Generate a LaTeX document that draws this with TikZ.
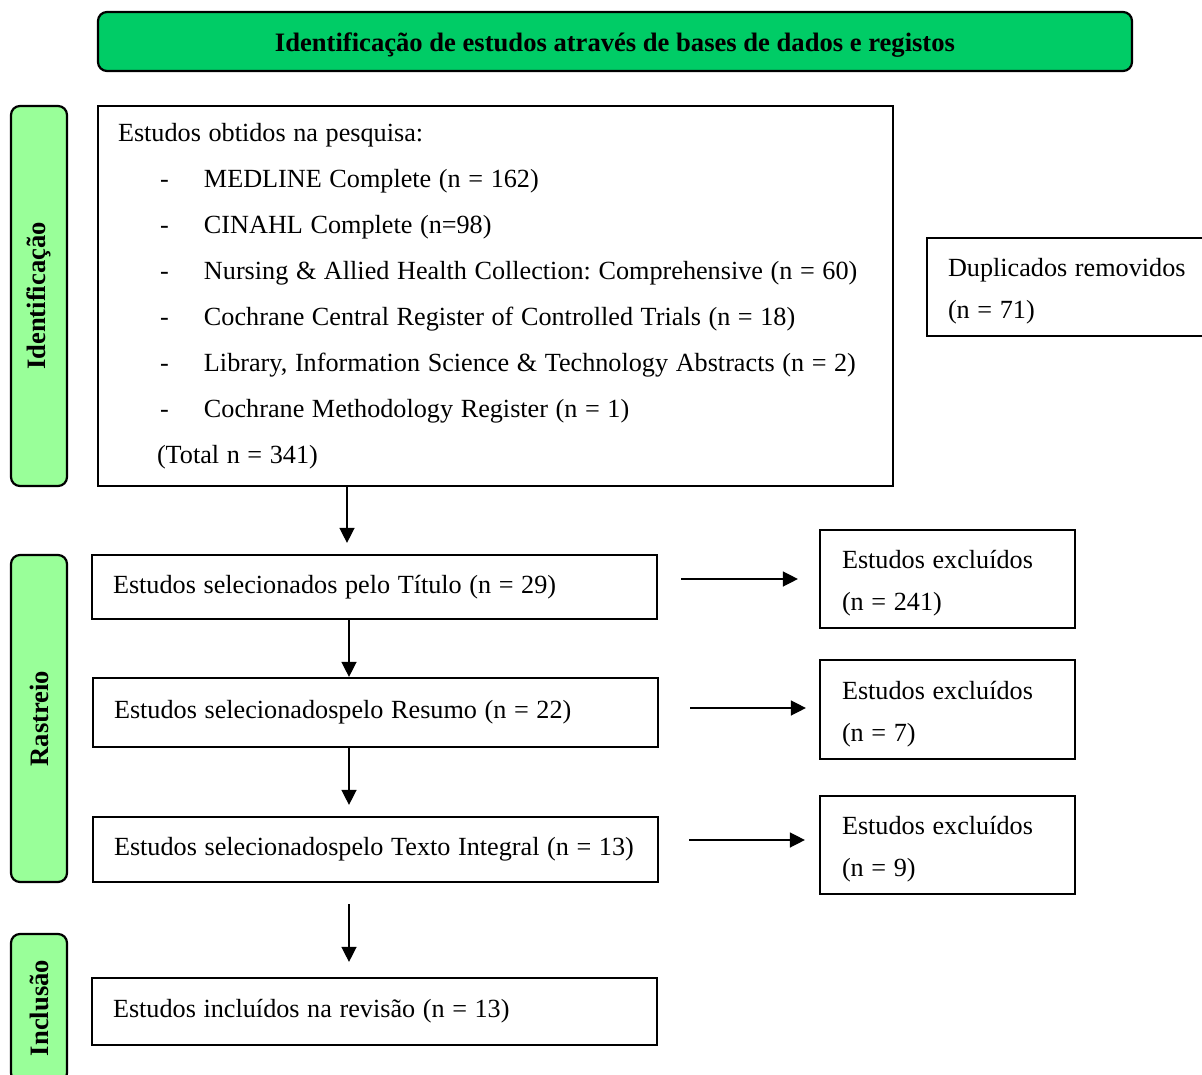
\documentclass[tikz,border=0pt]{standalone}
\usepackage{fontspec}
\setmainfont{Liberation Serif}
\usetikzlibrary{arrows.meta}
\definecolor{bannergreen}{RGB}{0,204,102}
\definecolor{sidegreen}{RGB}{153,255,153}
\newcommand{\boxfont}[1]{\fontsize{26.2}{#1}\selectfont}
\begin{document}
\begin{tikzpicture}[x=1pt,y=-1pt,
  every node/.style={font=\boxfont{42}},
  box/.style={draw,line width=2.2pt,rectangle,align=left,inner xsep=21pt,inner ysep=0pt,anchor=center,
    execute at begin node={\spaceskip=7.6pt\relax\xspaceskip=7.6pt\relax}},
  side/.style={draw,line width=2.2pt,rounded corners=9pt,fill=sidegreen,rotate=90,inner sep=0pt,font=\fontsize{26.6}{30}\selectfont\bfseries},
  arr/.style={line width=1.4pt,-{Triangle[length=15pt,width=15pt]}}
]
\clip (0,0) rectangle (1202,1075);
\fill[white] (0,0) rectangle (1202,1075);

% banner
\node[draw,line width=2.2pt,rounded corners=9pt,fill=bannergreen,minimum width=1034pt,minimum height=59pt,inner sep=0pt,text height=26pt,text depth=5pt,font=\fontsize{26.6}{30}\selectfont\bfseries] (banner) at (615,41.5) {Identificação de estudos através de bases de dados e registos};

% side labels
\node[side,minimum width=380pt,minimum height=56pt] (sid) at (39,296) {Identificação};
\node[side,minimum width=327pt,minimum height=56pt] (sra) at (39,718.5) {Rastreio};
\node[side,minimum width=148pt,minimum height=56pt] (sin) at (39,1008) {Inclusão};

% main box
\node[box,text width=755pt,minimum height=380pt,inner xsep=20pt,font=\boxfont{46}] (main) at (495.5,296) {%
Estudos obtidos na pesquisa:\\
\makebox[86pt][l]{\hspace{42pt}-}MEDLINE Complete (n = 162)\\
\makebox[86pt][l]{\hspace{42pt}-}CINAHL Complete (n=98)\\
\makebox[86pt][l]{\hspace{42pt}-}Nursing \& Allied Health Collection: Comprehensive (n = 60)\\
\makebox[86pt][l]{\hspace{42pt}-}Cochrane Central Register of Controlled Trials (n = 18)\\
\makebox[86pt][l]{\hspace{42pt}-}Library, Information Science \& Technology Abstracts (n = 2)\\
\makebox[86pt][l]{\hspace{42pt}-}Cochrane Methodology Register (n = 1)\\
\hspace{39pt}(Total n = 341)};

% duplicates
\node[box,text width=250pt,minimum height=98pt] (dup) at (1073,287) {\rule{0pt}{26pt}Duplicados removidos\\(n = 71)};

% screening boxes
\node[box,text width=523pt,minimum height=64pt] (b1) at (374.5,587) {\raisebox{2pt}{Estudos selecionados pelo Título (n = 29)}};
\node[box,text width=523pt,minimum height=69pt] (b2) at (375.5,712.5) {\raisebox{2pt}{Estudos selecionadospelo Resumo (n = 22)}};
\node[box,text width=523pt,minimum height=65pt] (b3) at (375.5,849.5) {\raisebox{2pt}{Estudos selecionadospelo Texto Integral (n = 13)}};
\node[box,text width=523pt,minimum height=67pt] (b4) at (374.5,1011.5) {\raisebox{2pt}{Estudos incluídos na revisão (n = 13)}};

% excluded boxes
\node[box,text width=211pt,minimum height=98pt,inner xsep=22pt] (e1) at (947.5,579) {\rule{0pt}{27pt}Estudos excluídos\\(n = 241)};
\node[box,text width=211pt,minimum height=99pt,inner xsep=22pt] (e2) at (947.5,709.5) {\rule{0pt}{27pt}Estudos excluídos\\(n = 7)};
\node[box,text width=211pt,minimum height=98pt,inner xsep=22pt] (e3) at (947.5,845) {\rule{0pt}{27pt}Estudos excluídos\\(n = 9)};

% helper coordinates
\coordinate (va) at (347,0);
\coordinate (vb) at (349,0);
\coordinate (h1) at (0,579);
\coordinate (h2) at (0,708);
\coordinate (h3) at (0,840);

% vertical arrows
\draw[arr,shorten >=11pt] (main.south -| va) -- (b1.north -| va);
\draw[arr] (b1.south -| vb) -- (b2.north -| vb);
\draw[arr,shorten >=11pt] (b2.south -| vb) -- (b3.north -| vb);
\draw[arr,shorten <=21pt,shorten >=15pt] (b3.south -| vb) -- (b4.north -| vb);

% horizontal arrows
\draw[arr,shorten <=23pt,shorten >=21pt] (b1.east |- h1) -- (e1.west |- h1);
\draw[arr,shorten <=31pt,shorten >=13pt] (b2.east |- h2) -- (e2.west |- h2);
\draw[arr,shorten <=30pt,shorten >=14pt] (b3.east |- h3) -- (e3.west |- h3);
\end{tikzpicture}
\end{document}
